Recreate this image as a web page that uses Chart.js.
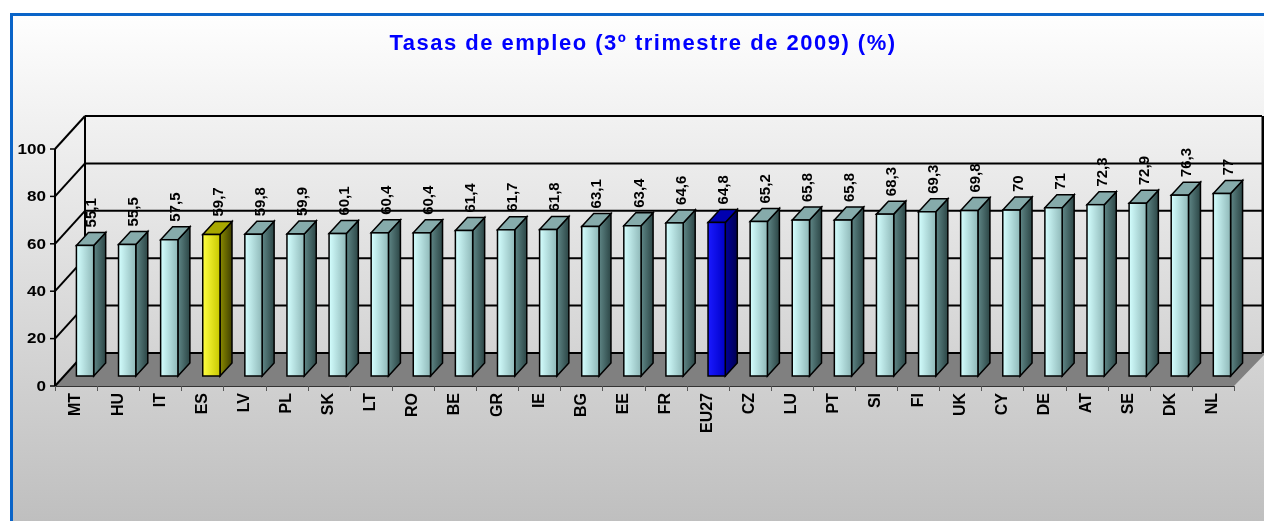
<!DOCTYPE html>
<html>
<head>
<meta charset="utf-8">
<script src="https://cdn.jsdelivr.net/npm/chart.js@4"></script>
<style>
  html, body { margin: 0; padding: 0; background: #fff; }
  #wrap { width: 1264px; height: 521px; }
</style>
</head>
<body>
<div id="wrap"><canvas id="chart" width="1264" height="521"></canvas></div>
<script>
const categories = ['MT', 'HU', 'IT', 'ES', 'LV', 'PL', 'SK', 'LT', 'RO', 'BE', 'GR', 'IE', 'BG', 'EE',
    'FR', 'EU27', 'CZ', 'LU', 'PT', 'SI', 'FI', 'UK', 'CY', 'DE', 'AT', 'SE', 'DK', 'NL'];
const employmentRates = [55.1, 55.5, 57.5, 59.7, 59.8, 59.9, 60.1, 60.4, 60.4, 61.4, 61.7, 61.8, 63.1, 63.4,
    64.6, 64.8, 65.2, 65.8, 65.8, 68.3, 69.3, 69.8, 70, 71, 72.3, 72.9, 76.3, 77];
const yTicks = [0, 20, 40, 60, 80, 100];
const chartTitle = 'Tasas de empleo (3º trimestre de 2009) (%)';

// bar colour sets: front gradient (left, right), side gradient, top
const palettes = {
    normal: { front: ['#d4ffff', '#8fb8b8'], side: ['#5f8686', '#2c4646'], top: '#86abab' },
    ES: { front: ['#ffff40', '#c8c800'], side: ['#8a8a00', '#404000'], top: '#a8a800' },
    EU27: { front: ['#1a1aff', '#0000c8'], side: ['#000099', '#000050'], top: '#0000b0' }
};

// offsets between the bar plane (chart area) and the front / back planes of the 3D box
const FRONT = { dx: -9, dy: 10 };
const BACK = { dx: 21, dy: -23 };
const DEPTH = { dx: 12, dy: -13 };

const fmt = v => String(v).replace('.', ',');

const line = (ctx, x1, y1, x2, y2) => {
    ctx.beginPath();
    ctx.moveTo(x1, y1);
    ctx.lineTo(x2, y2);
    ctx.stroke();
};

const box3d = {
    id: 'box3d',
    beforeDraw(chart) {
        const { ctx, width, height } = chart;
        ctx.save();
        ctx.fillStyle = '#ffffff';
        ctx.fillRect(0, 0, width, height);
        const bg = ctx.createLinearGradient(0, 15, 0, height);
        bg.addColorStop(0, '#fefefe');
        bg.addColorStop(1, '#bfbfbf');
        ctx.fillStyle = bg;
        ctx.fillRect(11, 15, width, height);
        ctx.strokeStyle = '#0a64c8';
        ctx.lineWidth = 3;
        ctx.beginPath();
        ctx.moveTo(11.5, height + 5);
        ctx.lineTo(11.5, 14.5);
        ctx.lineTo(width + 5, 14.5);
        ctx.stroke();

        ctx.fillStyle = '#0000ff';
        ctx.font = 'bold 22px "Liberation Sans", Arial, sans-serif';
        ctx.letterSpacing = '1.5px';
        ctx.textAlign = 'center';
        ctx.textBaseline = 'middle';
        ctx.fillText(chartTitle, 643, 44);
        ctx.restore();
    },
    beforeDatasetsDraw(chart) {
        const { ctx, chartArea: a, scales: { x, y } } = chart;
        const fl = a.left + FRONT.dx, fr = a.right + FRONT.dx;
        const bl = a.left + BACK.dx, br = a.right + BACK.dx - 2;
        const yf = v => y.getPixelForValue(v) + FRONT.dy;
        const yb = v => y.getPixelForValue(v) + BACK.dy;
        ctx.save();

        // floor
        ctx.fillStyle = '#808080';
        ctx.beginPath();
        ctx.moveTo(fl, yf(0));
        ctx.lineTo(bl, yb(0));
        ctx.lineTo(br + 4, yb(0));
        ctx.lineTo(fr, yf(0));
        ctx.closePath();
        ctx.fill();

        ctx.strokeStyle = '#000';
        ctx.lineWidth = 2;
        yTicks.forEach(v => {
            line(ctx, bl, yb(v), br, yb(v));
            line(ctx, fl, yf(v), bl, yb(v));
        });
        line(ctx, bl, yb(100), bl, yb(0));
        ctx.lineWidth = 3;
        line(ctx, br + 1, yb(100), br + 1, yb(0));
        ctx.lineWidth = 2;

        // value axis
        line(ctx, fl, yf(100), fl, yf(0));
        ctx.fillStyle = '#000';
        ctx.font = 'bold 14px "Liberation Sans", Arial, sans-serif';
        ctx.textAlign = 'right';
        ctx.textBaseline = 'middle';
        ctx.lineWidth = 1.5;
        yTicks.forEach(v => {
            line(ctx, fl - 5, yf(v), fl, yf(v));
            ctx.save();
            ctx.translate(fl - 9, yf(v) + 1);
            ctx.scale(1.22, 1);
            ctx.fillText(String(v), 0, 0);
            ctx.restore();
        });

        // category axis
        ctx.strokeStyle = '#333';
        ctx.lineWidth = 1;
        line(ctx, fl, yf(0) + 0.5, fr, yf(0) + 0.5);
        ctx.strokeStyle = '#555';
        const step = (a.right - a.left) / categories.length;
        for (let i = 0; i <= categories.length; i++) {
            const tx = Math.round(fl + i * step) + 0.5;
            line(ctx, tx, yf(0), tx, yf(0) + 5);
        }
        ctx.font = 'bold 16px "Liberation Sans", Arial, sans-serif';
        categories.forEach((c, i) => {
            ctx.save();
            ctx.translate(x.getPixelForValue(i) + FRONT.dx, yf(0) + 7);
            ctx.rotate(-Math.PI / 2);
            ctx.textAlign = 'right';
            ctx.textBaseline = 'middle';
            ctx.fillText(c, 0, 0);
            ctx.restore();
        });
        ctx.restore();
    },
    afterDatasetsDraw(chart) {
        const { ctx } = chart;
        const meta = chart.getDatasetMeta(0);
        ctx.save();
        meta.data.forEach((bar, i) => {
            const p = palettes[categories[i]] || palettes.normal;
            const { x, y, base, width } = bar.getProps(['x', 'y', 'base', 'width'], true);
            const l = x - width / 2, r = x + width / 2;

            const sg = ctx.createLinearGradient(r, 0, r + DEPTH.dx, 0);
            sg.addColorStop(0, p.side[0]);
            sg.addColorStop(1, p.side[1]);
            ctx.fillStyle = sg;
            ctx.beginPath();
            ctx.moveTo(r, y);
            ctx.lineTo(r + DEPTH.dx, y + DEPTH.dy);
            ctx.lineTo(r + DEPTH.dx, base + DEPTH.dy);
            ctx.lineTo(r, base);
            ctx.closePath();
            ctx.fill();
            ctx.strokeStyle = '#000';
            ctx.lineWidth = 1.5;
            ctx.stroke();

            ctx.fillStyle = p.top;
            ctx.beginPath();
            ctx.moveTo(l, y);
            ctx.lineTo(l + DEPTH.dx, y + DEPTH.dy);
            ctx.lineTo(r + DEPTH.dx, y + DEPTH.dy);
            ctx.lineTo(r, y);
            ctx.closePath();
            ctx.fill();
            ctx.stroke();

            const fg = ctx.createLinearGradient(l, 0, r, 0);
            fg.addColorStop(0, p.front[0]);
            fg.addColorStop(1, p.front[1]);
            ctx.fillStyle = fg;
            ctx.fillRect(l, y, width, base - y);
            ctx.strokeRect(l, y, width, base - y);

            ctx.save();
            ctx.translate(x + DEPTH.dx / 2 + 1, y + DEPTH.dy - 5);
            ctx.rotate(-Math.PI / 2);
            ctx.fillStyle = '#000';
            ctx.font = 'bold 15px "Liberation Sans", Arial, sans-serif';
            ctx.textAlign = 'left';
            ctx.textBaseline = 'middle';
            ctx.fillText(fmt(employmentRates[i]), 0, 0);
            ctx.restore();
        });
        ctx.restore();
    }
};

new Chart(document.getElementById('chart'), {
    type: 'bar',
    data: {
        labels: categories,
        datasets: [{
            label: chartTitle,
            data: employmentRates,
            backgroundColor: categories.map(c => (palettes[c] || palettes.normal).front[1]),
            borderWidth: 0,
            categoryPercentage: 1,
            barPercentage: 0.41
        }]
    },
    options: {
        responsive: false,
        animation: false,
        devicePixelRatio: 1,
        layout: { padding: { left: 64, right: 21, top: 139, bottom: 145 } },
        plugins: { legend: { display: false }, title: { display: false }, tooltip: { enabled: false } },
        scales: {
            x: { display: false },
            y: { display: false, min: 0, max: 100 }
        }
    },
    plugins: [box3d]
});
</script>
</body>
</html>
